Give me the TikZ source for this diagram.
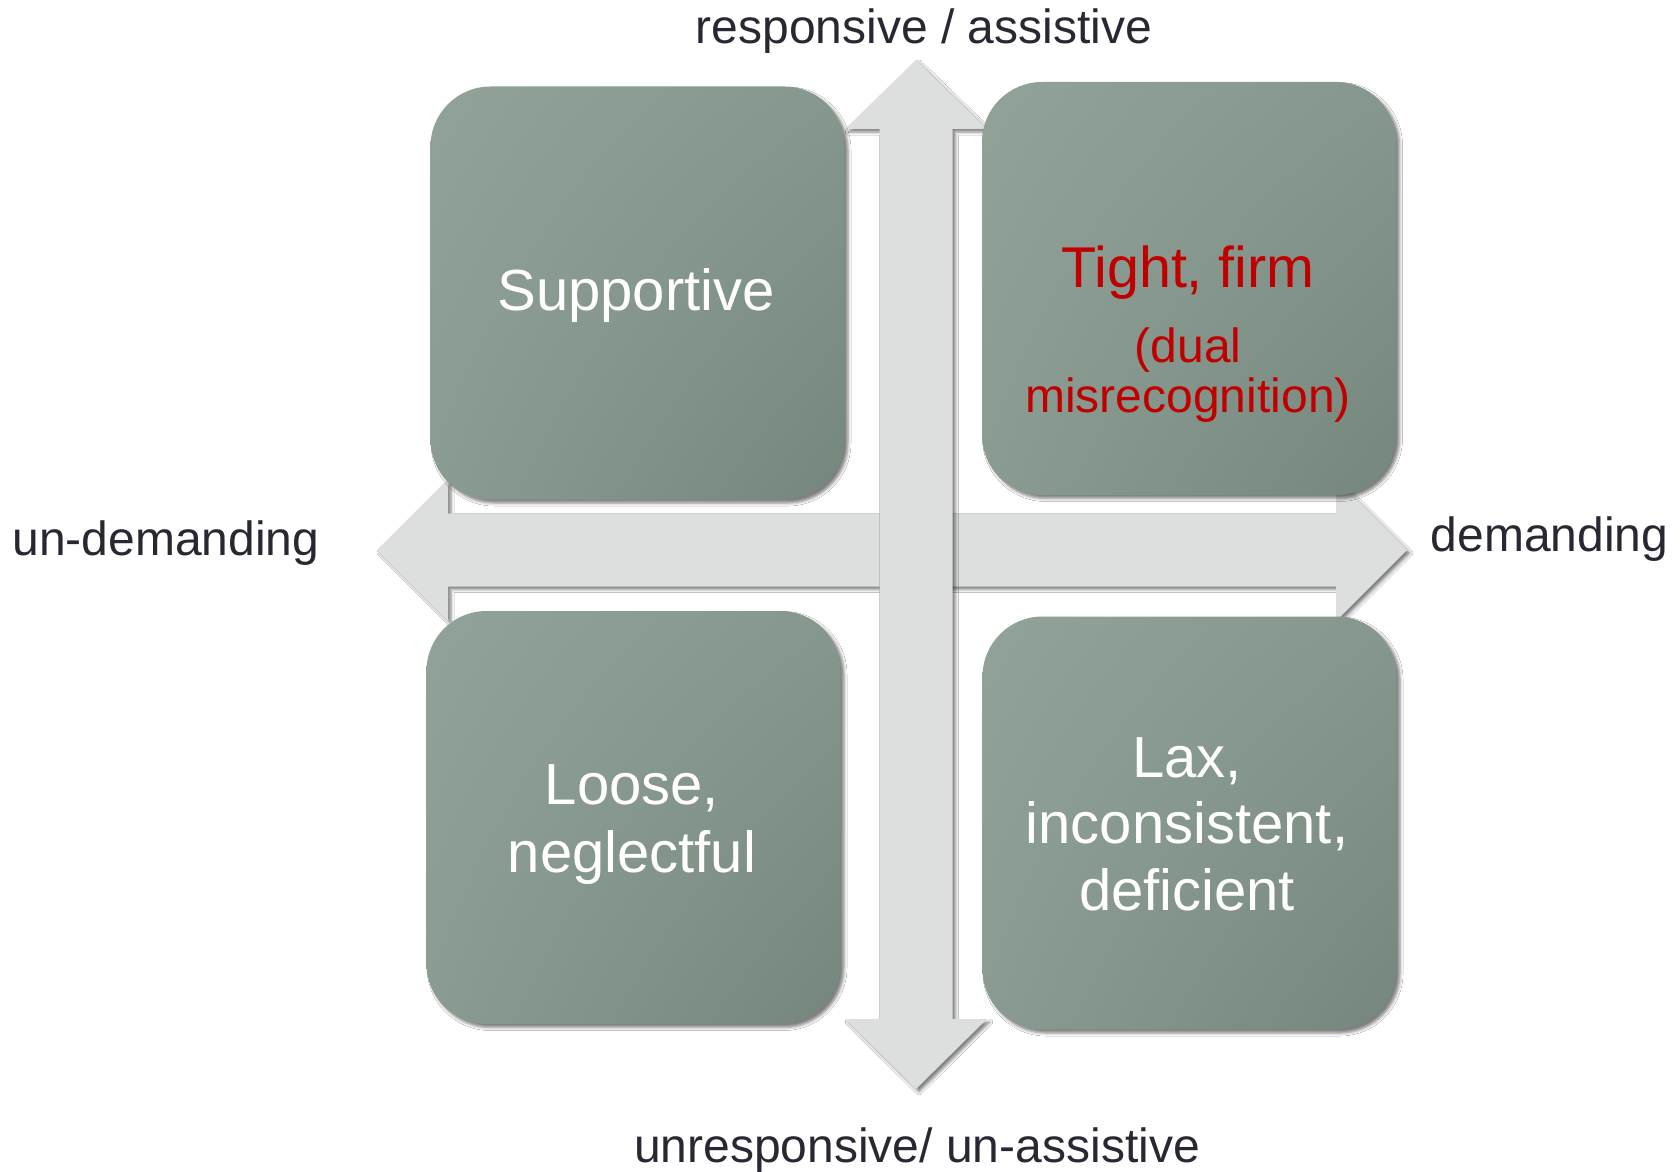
\documentclass[tikz,border=0pt]{standalone}
\usepackage{fontspec}
\setmainfont{Liberation Sans}
\usetikzlibrary{shadows.blur,shadings}

\definecolor{axisgray}{RGB}{220,223,222}
\definecolor{labelink}{RGB}{40,40,50}
\definecolor{tightred}{RGB}{192,0,0}
\definecolor{boxUL}{RGB}{145,162,152}
\definecolor{boxUR}{RGB}{134,151,141}
\definecolor{boxLL}{RGB}{138,155,145}
\definecolor{boxLR}{RGB}{117,135,124}

\begin{document}
\begin{tikzpicture}[x=1pt,y=-1pt,
  quad/.style={rounded corners=60pt, minimum width=414pt, minimum height=413pt,
    inner sep=0pt, shade, upper left=boxUL, upper right=boxUR,
    lower left=boxLL, lower right=boxLR,
    blur shadow={shadow xshift=3.5pt, shadow yshift=-3.5pt,
      shadow blur radius=3pt, shadow opacity=50}},
  quadtext/.style={anchor=base, text=white, inner sep=0pt,
    font=\fontsize{58}{66}\selectfont},
  redtitle/.style={anchor=base, text=tightred, inner sep=0pt,
    font=\fontsize{57.5}{62}\selectfont},
  rednote/.style={anchor=base, text=tightred, inner sep=0pt,
    font=\fontsize{48}{52}\selectfont},
  axislabel/.style={anchor=base, text=labelink, inner sep=0pt,
    font=\fontsize{48}{54}\selectfont},
  axisarrow/.style={fill=axisgray,
    blur shadow={shadow xshift=3pt, shadow yshift=-3pt,
      shadow blur radius=3pt, shadow opacity=50}}]

% page
\fill[white] (0,0) rectangle (1680,1171);

% horizontal double arrow: un-demanding <-> demanding
\path[axisarrow] (377,550) -- (448,479) -- (448,513.5) -- (1336,513.5)
  -- (1336,479) -- (1407,550) -- (1336,621) -- (1336,586.5)
  -- (448,586.5) -- (448,621) -- cycle;

% vertical double arrow: responsive <-> unresponsive
\path[axisarrow] (916,60) -- (987,129) -- (952.5,129) -- (952.5,1019)
  -- (987,1019) -- (916,1089) -- (845,1019) -- (879.5,1019)
  -- (879.5,129) -- (845,129) -- cycle;

% quadrants
\node[quad] (supportive) at (637.5,293) {};
\node[quad] (tight) at (1189,288.5) {};
\node[quad] (loose) at (633.5,817.5) {};
\node[quad] (lax) at (1189.5,823) {};

% quadrant texts
\node[quadtext] (supportiveT) at (636,310) {Supportive};

\node[redtitle] (tightT) at (1188,287) {Tight, firm};
\node[rednote] (tightA) at (1188,362) {(dual};
\node[rednote] (tightB) at (1188,412) {misrecognition)};

\node[quadtext] (looseA) at (632,804) {Loose,};
\node[quadtext] (looseB) at (632,872) {neglectful};

\node[quadtext] (laxA) at (1187,777) {Lax,};
\node[quadtext] (laxB) at (1187,843) {inconsistent,};
\node[quadtext] (laxC) at (1187,910) {deficient};

% axis labels
\node[axislabel] (top) at (924,44) {responsive / assistive};
\node[axislabel] (bottom) at (917,1162) {unresponsive/ un-assistive};
\node[axislabel] (left) at (166,555) {un-demanding};
\node[axislabel] (right) at (1549.5,551) {demanding};
\end{tikzpicture}
\end{document}
